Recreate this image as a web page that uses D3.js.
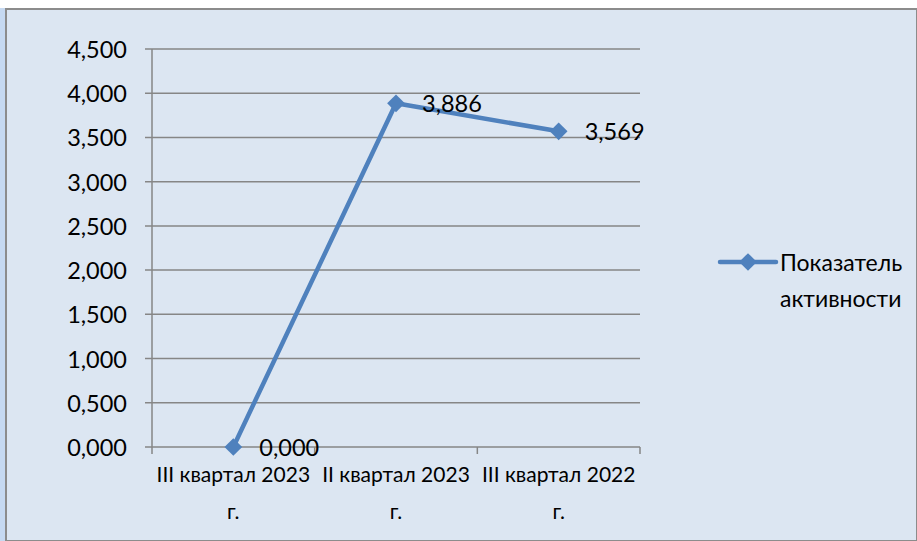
<!DOCTYPE html>
<html lang="ru">
<head>
    <meta charset="UTF-8">
    <title>Показатель активности</title>
    <script src="https://d3js.org/d3.v7.min.js"></script>
    <style>
        body { margin: 0; background: #fff; }
        text { font-family: Lato, "Open Sans", sans-serif; fill: #000; }
    </style>
</head>
<body>
<svg id="chart" width="917" height="541"></svg>

<script>
    // Chart data.
    const categories = ["III квартал 2023 г.", "II квартал 2023 г.", "III квартал 2022 г."];
    const categoryLines = [["III квартал 2023", "г."], ["II квартал 2023", "г."], ["III квартал 2022", "г."]];
    const values = [0.000, 3.886, 3.569];
    const yTicks = [0, 0.5, 1, 1.5, 2, 2.5, 3, 3.5, 4, 4.5];
    const seriesName = ["Показатель", "активности"];

    // Russian style number: comma as decimal separator, 3 decimals.
    const fmt = v => v.toFixed(3).replace(".", ",");

    const svg = d3.select("#chart");
    const blue = "#4f81bd";
    const grid = "#868686";

    // Chart background with the cut-off frame.
    svg.append("rect").attr("x", 0).attr("y", 8).attr("width", 6).attr("height", 533).attr("fill", "#c6d9f1");
    svg.append("rect").attr("x", 6).attr("y", 9).attr("width", 911).attr("height", 532)
        .attr("fill", "#dce6f2").attr("stroke", "#8c8c8c").attr("stroke-width", 2);

    const x = d3.scaleBand().domain(categories).range([152, 640]);
    const y = d3.scaleLinear().domain([0, 4.5]).range([447, 49]);

    // Horizontal gridlines and y tick marks.
    let g = svg.append("g");
    g.selectAll("line.grid").data(yTicks).enter().append("line")
        .attr("x1", 145).attr("x2", 640)
        .attr("y1", d => y(d)).attr("y2", d => y(d))
        .attr("stroke", grid).attr("stroke-width", 1.5);
    g.selectAll("text.ytick").data(yTicks).enter().append("text")
        .attr("x", 127).attr("y", d => y(d))
        .attr("text-anchor", "end").attr("dominant-baseline", "central")
        .attr("font-size", 23.5)
        .text(fmt);

    // Axes lines.
    g.append("line").attr("x1", 152).attr("x2", 152).attr("y1", y(4.5)).attr("y2", y(0))
        .attr("stroke", grid).attr("stroke-width", 1.5);
    const bounds = categories.map(c => x(c)).concat([x.range()[1]]);
    g.selectAll("line.xtick").data(bounds).enter().append("line")
        .attr("x1", d => d).attr("x2", d => d).attr("y1", y(0)).attr("y2", y(0) + 7)
        .attr("stroke", grid).attr("stroke-width", 1.5);

    // Category labels, two lines each.
    categories.forEach((c, i) => {
        let t = g.append("text").attr("text-anchor", "middle").attr("font-size", 21);
        categoryLines[i].forEach((line, j) => {
            t.append("tspan").attr("x", x(c) + x.bandwidth() / 2)
                .attr("y", 482 + j * 37).text(line);
        });
    });

    // Series line.
    const pts = categories.map((c, i) => [x(c) + x.bandwidth() / 2, y(values[i])]);
    svg.append("path").attr("d", d3.line()(pts))
        .attr("fill", "none").attr("stroke", blue).attr("stroke-width", 4.5)
        .attr("stroke-linejoin", "round");

    const diamond = d3.symbol().type(d3.symbolDiamond2).size(200);
    svg.selectAll("path.mark").data(pts).enter().append("path")
        .attr("d", diamond).attr("transform", d => `translate(${d[0]},${d[1]})`)
        .attr("fill", blue);

    // Data labels to the right of the points.
    svg.selectAll("text.lab").data(pts).enter().append("text")
        .attr("x", d => d[0] + 26).attr("y", d => d[1])
        .attr("dominant-baseline", "central").attr("font-size", 23.5)
        .text((d, i) => fmt(values[i]));

    // Legend.
    const leg = svg.append("g");
    leg.append("line").attr("x1", 720).attr("x2", 776).attr("y1", 262).attr("y2", 262)
        .attr("stroke", blue).attr("stroke-width", 4.5).attr("stroke-linecap", "round");
    leg.append("path").attr("d", diamond).attr("transform", "translate(748,262)").attr("fill", blue);
    let lt = leg.append("text").attr("font-size", 23);
    seriesName.forEach((s, j) => {
        lt.append("tspan").attr("x", 780).attr("y", 262 + j * 36).attr("dominant-baseline", "central").text(s);
    });
</script>
</body>
</html>
